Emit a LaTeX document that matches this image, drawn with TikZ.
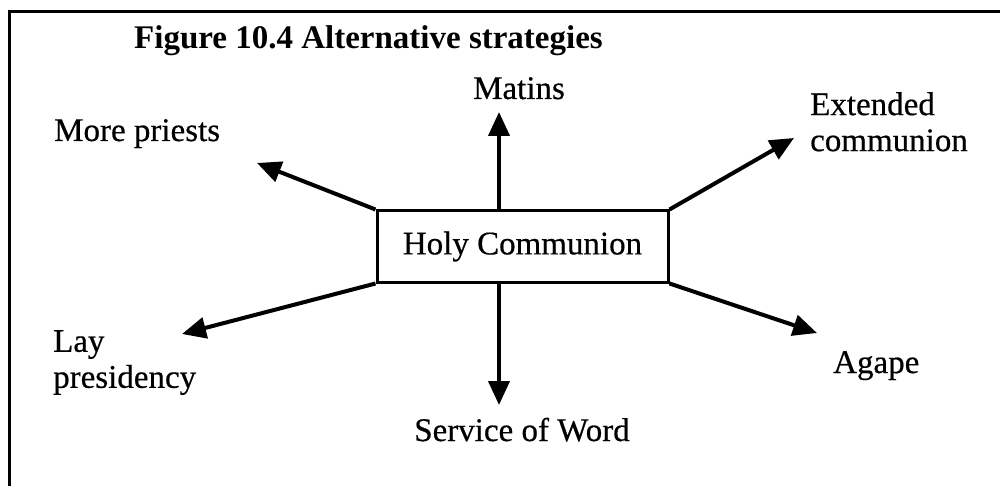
\documentclass[tikz,border=0pt]{standalone}
\usepackage{fontspec}
\setmainfont{Liberation Serif}
\newfontfamily\labelfont{Liberation Serif}[FakeBold=0.5]
\usetikzlibrary{arrows.meta}
\begin{document}
\begin{tikzpicture}[x=1pt,y=-1pt,
  frame/.style={line width=3pt},
  lbl/.style={inner sep=0pt, font=\labelfont\fontsize{33}{36}\selectfont},
  ttl/.style={inner sep=0pt, font=\fontsize{33}{36}\selectfont\bfseries},
  centrebox/.style={draw, line width=3pt, inner sep=0pt,
    minimum width=291pt, minimum height=71pt, font=\labelfont\fontsize{33}{36}\selectfont},
  strat/.style={line width=4pt, -{Triangle[length=24pt,width=21pt]}}
]
\useasboundingbox (0,0) rectangle (1000,486);
\fill[white] (0,0) rectangle (1000,486);

% open frame: top rule and left rule only
\draw[frame] (1000,12) -- (9.5,12) -- (9.5,486);

% caption
\node[ttl, anchor=base west] (title) at (134,49) {Figure 10.4 Alternative strategies};

% central practice
\node[centrebox] (hc) at (522.5,246.5) {Holy Communion};

% alternatives
\node[lbl, anchor=base] (matins) at (519,99) {Matins};
\node[lbl, anchor=base west] (priests) at (54,141) {More priests};
\node[lbl, anchor=north west, align=left] (extended) at (810,92) {Extended\\communion};
\node[lbl, anchor=north west, align=left] (lay) at (53,330) {Lay\\presidency};
\node[lbl, anchor=base west] (agape) at (833,373) {Agape};
\node[lbl, anchor=base] (word) at (522,441) {Service of Word};

% arrow tips
\coordinate (tMatins) at (499,112);
\coordinate (tPriests) at (257,163);
\coordinate (tExtended) at (794,138);
\coordinate (tLay) at (182,334);
\coordinate (tAgape) at (817,333);
\coordinate (tWord) at (499,405);

% connectors from the central box
\draw[strat] ([xshift=-23.5pt]hc.north) -- (tMatins);
\draw[strat] (hc.north west) -- (tPriests);
\draw[strat] (hc.north east) -- (tExtended);
\draw[strat] (hc.south west) -- (tLay);
\draw[strat] (hc.south east) -- (tAgape);
\draw[strat] ([xshift=-23.5pt]hc.south) -- (tWord);
\end{tikzpicture}
\end{document}
